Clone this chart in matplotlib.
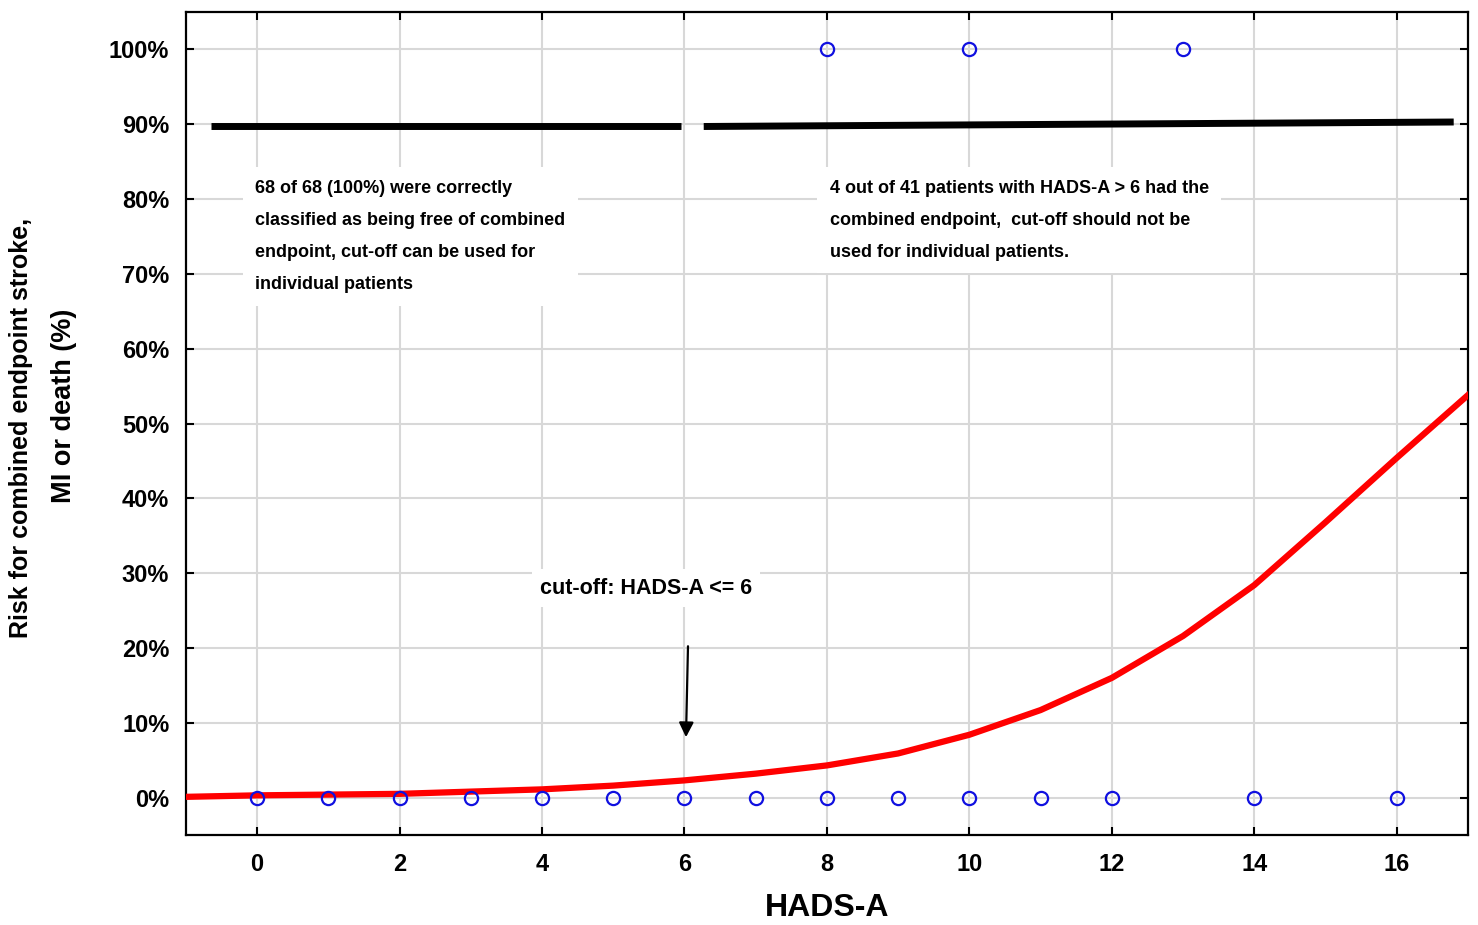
import matplotlib.pyplot as plt
import numpy as np

plt.rcParams['font.family'] = ['Liberation Sans', 'DejaVu Sans']
plt.rcParams['font.weight'] = 'bold'

# Datos
curve_x = [-1, 0, 1, 2, 3, 4, 5, 6, 7, 8, 9, 10, 11, 12, 13, 14, 15, 16, 17]
curve_y = [0.1, 0.3, 0.4, 0.5, 0.8, 1.1, 1.6, 2.3, 3.2, 4.3, 5.9, 8.4, 11.7,
           16.0, 21.6, 28.4, 36.8, 45.4, 53.8]
obs_x = [0, 1, 2, 3, 4, 5, 6, 7, 8, 9, 10, 11, 12, 14, 16, 8, 10, 13]
obs_y = [0] * 15 + [100, 100, 100]

left_seg_x = [-0.65, 5.95]
left_seg_y = [89.8, 89.8]
right_seg_x = [6.27, 16.8]
right_seg_y = [89.7, 90.3]

xticks = list(range(0, 17, 2))
yticks = list(range(0, 101, 10))

fig = plt.figure(figsize=(14.78, 9.25), dpi=100)
ax = fig.add_axes([0.1258, 0.0973, 0.8674, 0.8897])

ax.grid(True, color='#d8d8d8', linewidth=1.5, zorder=0)
ax.plot(curve_x, curve_y, color='#ff0000', linewidth=4.5, zorder=3)
ax.plot(obs_x, obs_y, linestyle='none', marker='o', markersize=9.5,
        markerfacecolor='none', markeredgecolor='#1010e0', markeredgewidth=1.6, zorder=4)
ax.plot(left_seg_x, left_seg_y, color='black', linewidth=5, solid_capstyle='butt', zorder=3)
ax.plot(right_seg_x, right_seg_y, color='black', linewidth=5, solid_capstyle='butt', zorder=3)

# Textos
ax.text(-0.03, 82.6,
        '68 of 68 (100%) were correctly\nclassified as being free of combined\n'
        'endpoint, cut-off can be used for\nindividual patients',
        fontsize=13, fontweight='bold', va='top', ha='left', linespacing=2.17,
        bbox=dict(facecolor='white', edgecolor='none', pad=9), zorder=2)
ax.text(8.04, 82.6,
        '4 out of 41 patients with HADS-A > 6 had the\ncombined endpoint,  cut-off should not be\n'
        'used for individual patients.',
        fontsize=13, fontweight='bold', va='top', ha='left', linespacing=2.17,
        bbox=dict(facecolor='white', edgecolor='none', pad=9), zorder=2)
ax.annotate('', xy=(6.02, 7.7), xytext=(6.05, 20.6),
            arrowprops=dict(arrowstyle='-|>', color='black', lw=1.6, mutation_scale=22), zorder=5)
ax.text(3.97, 28.0, 'cut-off: HADS-A <= 6', fontsize=15.5, fontweight='bold',
        va='center', ha='left', bbox=dict(facecolor='white', edgecolor='none', pad=6), zorder=2)

ax.set_xlim(-1, 17)
ax.set_ylim(-5, 105)
ax.set_xticks(xticks)
ax.set_yticks(yticks)
ax.set_yticklabels([f'{v}%' for v in yticks])
ax.tick_params(direction='in', top=True, right=True, length=6, width=1.5,
               labelsize=17, pad=12)
ax.tick_params(axis='x', pad=13)
for s in ax.spines.values():
    s.set_linewidth(1.6)

ax.set_xlabel('HADS-A', fontsize=23, fontweight='bold', labelpad=12)
fig.text(21 / 1478, 1 - 428 / 925, 'Risk for combined endpoint stroke,', rotation=90,
         fontsize=18, fontweight='bold', ha='center', va='center')
fig.text(64 / 1478, 1 - 406 / 925, 'MI or death (%)', rotation=90,
         fontsize=19.5, fontweight='bold', ha='center', va='center')

fig.savefig('out.png', dpi=100)
